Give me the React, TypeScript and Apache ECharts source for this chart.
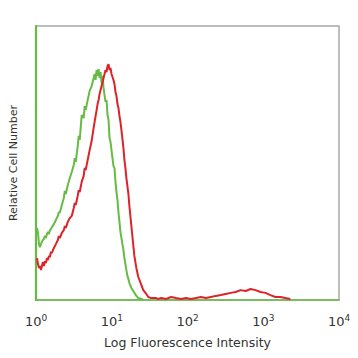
import React, { useEffect, useRef } from "react";
import * as echarts from "echarts";

// [fluorescence intensity, relative cell count]
const isotypeGreen: [number, number][] = [
  [1.031, 26.3], [1.062, 24.5], [1.095, 20.4], [1.128, 19.3], [1.163, 20.4], [1.198, 21.2],
  [1.235, 21.9], [1.273, 22.3], [1.312, 23.4], [1.352, 22.6], [1.394, 24.1], [1.437, 24.8],
  [1.481, 24.1], [1.526, 25.5], [1.573, 25.9], [1.621, 26.6], [1.722, 27.7], [1.829, 29.2],
  [1.943, 30.7], [2.003, 32.1], [2.064, 31.8], [2.193, 34.7], [2.329, 37.2], [2.401, 39.8],
  [2.474, 38.7], [2.629, 42.0], [2.792, 44.5], [2.966, 46.7], [3.151, 49.3], [3.247, 51.8],
  [3.347, 50.4], [3.555, 56.2], [3.664, 59.9], [3.776, 58.4], [4.012, 67.5], [4.262, 66.4],
  [4.392, 70.8], [4.527, 69.3], [4.809, 73.0], [5.108, 76.3], [5.427, 78.1], [5.765, 81.0],
  [5.941, 82.5], [6.124, 80.3], [6.31, 83.9], [6.503, 81.8], [6.702, 84.3], [6.908, 81.0],
  [7.12, 83.2], [7.337, 79.2], [7.562, 81.8], [7.794, 77.4], [8.032, 74.8], [8.279, 72.3],
  [8.532, 73.0], [8.796, 67.5], [9.066, 65.7], [9.343, 59.1], [9.629, 57.7], [9.925, 54.7],
  [10.54, 48.9], [10.87, 48.2], [11.2, 43.1], [11.54, 39.4], [11.9, 36.5], [12.26, 32.1],
  [12.64, 28.5], [13.03, 24.8], [13.43, 22.6], [14.26, 18.2], [14.7, 15.3], [15.15, 13.1],
  [15.61, 10.9], [16.1, 8.8], [16.59, 7.7], [17.1, 6.2], [18.16, 4.4], [19.29, 3.3],
  [19.88, 2.6], [21.12, 1.5], [22.43, 0.7], [24.56, 0.4], [26.09, 0],
];

const stainedRed: [number, number][] = [
  [1.031, 15.3], [1.062, 13.1], [1.095, 11.7], [1.128, 12.4], [1.163, 10.9], [1.198, 12.4],
  [1.235, 13.9], [1.273, 12.4], [1.312, 14.2], [1.352, 13.5], [1.394, 15.3], [1.437, 14.6],
  [1.481, 16.1], [1.526, 15.7], [1.573, 17.5], [1.621, 17.2], [1.722, 19.0], [1.829, 20.4],
  [1.943, 21.9], [2.003, 23.4], [2.064, 22.6], [2.193, 24.5], [2.329, 25.5], [2.401, 27.0],
  [2.474, 26.3], [2.629, 28.5], [2.792, 29.9], [2.966, 30.7], [3.151, 33.6], [3.247, 35.4],
  [3.347, 34.7], [3.555, 38.0], [3.664, 40.1], [3.776, 39.4], [4.012, 43.1], [4.262, 45.3],
  [4.392, 48.2], [4.527, 47.4], [4.809, 51.1], [5.108, 54.7], [5.427, 58.0], [5.765, 62.8],
  [5.941, 65.0], [6.124, 67.2], [6.31, 69.3], [6.503, 71.5], [6.702, 73.0], [6.908, 75.2],
  [7.12, 76.6], [7.337, 78.1], [7.562, 79.6], [7.794, 81.0], [8.032, 82.5], [8.279, 83.9],
  [8.532, 83.2], [8.796, 85.4], [9.066, 86.1], [9.343, 83.9], [9.629, 84.7], [9.925, 82.5],
  [10.54, 80.3], [10.87, 78.8], [11.2, 75.9], [11.54, 74.5], [11.9, 71.5], [12.26, 70.1],
  [12.64, 67.2], [13.03, 65.0], [13.43, 62.0], [14.26, 55.5], [14.7, 51.1], [15.15, 48.2],
  [15.61, 44.5], [16.1, 41.6], [16.59, 38.7], [17.1, 34.3], [18.16, 27.0], [19.29, 19.7],
  [19.88, 16.1], [21.12, 11.7], [22.43, 8.4], [24.56, 5.5], [26.09, 3.6], [28.56, 2.2],
  [30.34, 1.1], [33.21, 0.7], [38.64, 0.7], [41.04, 0.4], [44.94, 0.7], [52.24, 0.4],
  [60.76, 1.1], [70.66, 0.7], [82.17, 0.4], [95.56, 0.7], [111.1, 0.4], [129.2, 0.7],
  [150.3, 1.1], [174.8, 0.7], [203.3, 1.1], [236.5, 1.5], [275.0, 1.8], [319.8, 2.2],
  [371.9, 2.6], [432.6, 2.9], [503.0, 3.6], [585.0, 3.3], [680.4, 4.0], [791.3, 3.6],
  [920.2, 2.9], [1070, 2.6], [1245, 1.8], [1448, 1.1], [1684, 1.1], [1958, 0.7], [2278, 0.4],
];

const xMin = 1;
const xMax = 10000;
const xTitle = "Log Fluorescence Intensity";
const yTitle = "Relative Cell Number";

const GREEN = "#66bb44";
const RED = "#dd2229";
const FONT = "DejaVu Sans";

export default function App() {
  const ref = useRef<HTMLDivElement>(null);
  useEffect(() => {
    if (!ref.current) return;
    const chart = echarts.init(ref.current, null, { renderer: "svg" });
    chart.setOption({
      animation: false,
      backgroundColor: "#ffffff",
      grid: {
        left: 34,
        top: 26,
        right: 19,
        bottom: 58,
        show: true,
        borderColor: "#a8a8a8",
        borderWidth: 1.5,
      },
      xAxis: {
        type: "log",
        logBase: 10,
        min: xMin,
        max: xMax,
        name: xTitle,
        nameLocation: "middle",
        nameGap: 36,
        nameTextStyle: { fontFamily: FONT, fontSize: 12.5, color: "#333" },
        axisLine: { show: true, lineStyle: { color: GREEN, width: 1.6 } },
        axisTick: { show: false },
        splitLine: { show: false },
        axisLabel: {
          margin: 13,
          formatter: (v: number) => `{b|10}{s|${Math.round(Math.log10(v))}}`,
          rich: {
            b: { fontFamily: FONT, fontSize: 13, color: "#333" },
            s: { fontFamily: FONT, fontSize: 9, color: "#333", padding: [0, 0, 7, 0] },
          },
        },
      },
      yAxis: {
        type: "value",
        min: 0,
        max: 100,
        name: yTitle,
        nameLocation: "middle",
        nameGap: 17,
        nameTextStyle: { fontFamily: FONT, fontSize: 11, color: "#333" },
        axisLine: { show: true, lineStyle: { color: GREEN, width: 2.2 } },
        axisTick: { show: false },
        axisLabel: { show: false },
        splitLine: { show: false },
      },
      series: [
        {
          type: "line",
          data: isotypeGreen,
          showSymbol: false,
          lineStyle: { color: GREEN, width: 2 },
          z: 2,
        },
        {
          type: "line",
          data: stainedRed,
          showSymbol: false,
          lineStyle: { color: RED, width: 2 },
          z: 3,
        },
      ],
    });
    return () => chart.dispose();
  }, []);
  return (
    <div
      ref={ref}
      style={{ position: "fixed", left: 0, top: 0, width: 358, height: 358, background: "#fff" }}
    />
  );
}
